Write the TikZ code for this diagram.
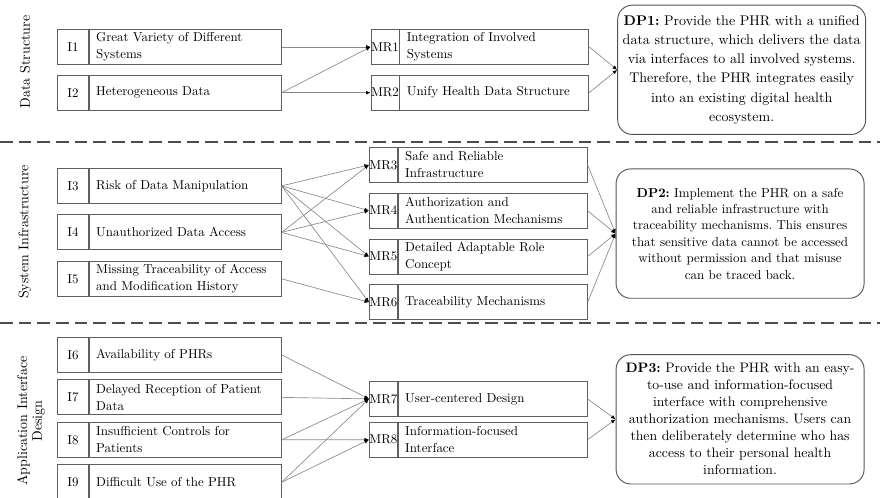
\documentclass[tikz,border=0pt]{standalone}
\usepackage{tikz}
\usetikzlibrary{arrows.meta, positioning, calc}
\definecolor{boxline}{HTML}{5F5F5F}
\definecolor{linkgray}{HTML}{8A8A8A}
\definecolor{sepgray}{HTML}{4D4D4D}
\definecolor{dpline}{HTML}{555555}
\newcommand{\boxfont}{\fontsize{9.7}{12.7}\selectfont}
\frenchspacing
\tikzset{
  >=Latex,
  idcell/.style={
    draw=boxline, line width=0.6pt, minimum width=#1,
    minimum height=26.25pt, inner sep=0pt, font=\boxfont
  },
  idcell/.default=23.25pt,
  txtcell/.style={
    draw=boxline, line width=0.6pt, text width=#1, inner xsep=5.25pt,
    inner ysep=0pt, minimum height=26.25pt, align=left, font=\boxfont
  },
  txtcell/.default=133.5pt,
  link/.style={draw=linkgray, line width=0.5pt, -{Latex[length=3.4pt,width=2.8pt,black]}},
  dpbox/.style={
    draw=dpline, line width=0.7pt, rounded corners=11pt, align=center,
    minimum width=186pt, minimum height=97pt, text width=182pt, inner xsep=2pt
  },
  seclab/.style={rotate=90, align=center, font=\fontsize{10.5}{11}\selectfont},
  sepline/.style={draw=sepgray, line width=0.9pt, dash pattern=on 9.5pt off 4.5pt}
}

\begin{document}
\begin{tikzpicture}[node distance=7.5pt]
  \useasboundingbox (0,0) rectangle (660pt,-373.5pt);
  \node[seclab] (secds) at (18.75pt,-46.5pt) {Data Structure};
  \node[seclab] (secsi) at (18.75pt,-174pt) {System Infrastructure};
  \node[seclab] (secaid) at (23.25pt,-315.75pt) {Application Interface\\Design};
  \draw[sepline] (0,-106.5pt) -- (660pt,-106.5pt);
  \draw[sepline] (0,-242.25pt) -- (660pt,-242.25pt);

  \node[idcell, anchor=north west] (i1) at (42.75pt,-21.75pt) {I1};
  \node[txtcell, right=0pt of i1] (i1t) {Great Variety of Different\\Systems};
  \node[idcell, below=of i1] (i2) {I2};
  \node[txtcell, right=0pt of i2] (i2t) {Heterogeneous Data};
  \node[idcell=21pt, right=66.75pt of i1t] (mr1) {MR1};
  \node[txtcell=131.25pt, right=0pt of mr1] (mr1t) {Integration of Involved\\Systems};
  \node[idcell=21pt, below=of mr1] (mr2) {MR2};
  \node[txtcell=131.25pt, right=0pt of mr2] (mr2t) {Unify Health Data Structure};
  \coordinate (dsmid) at ($(mr1t.east)!0.5!(mr2t.east)$);
  \node[dpbox, right=21pt of dsmid, font=\fontsize{10.5}{14.4}\selectfont] (dp1)
    {\textbf{DP1:} Provide the PHR with a unified\\data structure, which delivers the data\\via interfaces to all involved systems.\\Therefore, the PHR integrates easily\\into an existing digital health\\ecosystem.};
  \draw[link] (i1t.east) -- (mr1.west);
  \draw[link] (i2t.east) -- (mr1.west);
  \draw[link] (i2t.east) -- (mr2.west);
  \draw[link] (mr1t.east) -- (dp1.west);
  \draw[link] (mr2t.east) -- (dp1.west);

  \node[idcell, anchor=north west] (i3) at (42.75pt,-126pt) {I3};
  \node[txtcell, right=0pt of i3] (i3t) {Risk of Data Manipulation};
  \node[idcell, below=8pt of i3] (i4) {I4};
  \node[txtcell, right=0pt of i4] (i4t) {Unauthorized Data Access};
  \node[idcell, below=8pt of i4] (i5) {I5};
  \node[txtcell, right=0pt of i5] (i5t) {Missing Traceability of Access\\and Modification History};
  \node[idcell=21pt, anchor=north west] (mr3) at (276.75pt,-110.25pt) {MR3};
  \node[txtcell=131.25pt, right=0pt of mr3] (mr3t) {Safe and Reliable\\Infrastructure};
  \node[idcell=21pt, below=of mr3] (mr4) {MR4};
  \node[txtcell=131.25pt, right=0pt of mr4] (mr4t) {Authorization and\\Authentication Mechanisms};
  \node[idcell=21pt, below=of mr4] (mr5) {MR5};
  \node[txtcell=131.25pt, right=0pt of mr5] (mr5t) {Detailed Adaptable Role\\Concept};
  \node[idcell=21pt, below=of mr5] (mr6) {MR6};
  \node[txtcell=131.25pt, right=0pt of mr6] (mr6t) {Traceability Mechanisms};
  \coordinate (simid) at ($(mr4t.east)!0.5!(mr5t.east)$);
  \node[dpbox, right=21pt of simid, font=\fontsize{9.7}{12.3}\selectfont] (dp2)
    {\textbf{DP2:} Implement the PHR on a safe\\and reliable infrastructure with\\traceability mechanisms. This ensures\\that sensitive data cannot be accessed\\without permission and that misuse\\can be traced back.};
  \draw[link] (i3t.east) -- (mr3.west);
  \draw[link] (i3t.east) -- (mr4.west);
  \draw[link] (i3t.east) -- (mr5.west);
  \draw[link] (i3t.east) -- (mr6.west);
  \draw[link] (i4t.east) -- (mr3.west);
  \draw[link] (i4t.east) -- (mr4.west);
  \draw[link] (i4t.east) -- (mr5.west);
  \draw[link] (i5t.east) -- (mr6.west);
  \draw[link] (mr3t.east) -- (dp2.west);
  \draw[link] (mr4t.east) -- (dp2.west);
  \draw[link] (mr5t.east) -- (dp2.west);
  \draw[link] (mr6t.east) -- (dp2.west);

  \node[idcell, anchor=north west] (i6) at (42.75pt,-252.75pt) {I6};
  \node[txtcell, right=0pt of i6] (i6t) {Availability of PHRs};
  \node[idcell, below=5pt of i6] (i7) {I7};
  \node[txtcell, right=0pt of i7] (i7t) {Delayed Reception of Patient\\Data};
  \node[idcell, below=5pt of i7] (i8) {I8};
  \node[txtcell, right=0pt of i8] (i8t) {Insufficient Controls for\\Patients};
  \node[idcell, below=5pt of i8] (i9) {I9};
  \node[txtcell, right=0pt of i9] (i9t) {Difficult Use of the PHR};
  \node[idcell=21pt, anchor=north west] (mr7) at (276.75pt,-285.75pt) {MR7};
  \node[txtcell=131.25pt, right=0pt of mr7] (mr7t) {User-centered Design};
  \node[idcell=21pt, below=3.75pt of mr7] (mr8) {MR8};
  \node[txtcell=131.25pt, right=0pt of mr8] (mr8t) {Information-focused\\Interface};
  \coordinate (aidmid) at ($(mr7t.east)!0.5!(mr8t.east)$);
  \node[dpbox, right=21pt of aidmid, font=\fontsize{10.3}{12.75}\selectfont] (dp3)
    {\textbf{DP3:} Provide the PHR with an easy-\\to-use and information-focused\\interface with comprehensive\\authorization mechanisms. Users can\\then deliberately determine who has\\access to their personal health\\information.};
  \draw[link] (i6t.east) -- (mr7.west);
  \draw[link] (i7t.east) -- (mr7.west);
  \draw[link] (i8t.east) -- (mr7.west);
  \draw[link] (i8t.east) -- (mr8.west);
  \draw[link] (i9t.east) -- (mr7.west);
  \draw[link] (i9t.east) -- (mr8.west);
  \draw[link] (mr7t.east) -- (dp3.west);
  \draw[link] (mr8t.east) -- (dp3.west);
\end{tikzpicture}
\end{document}
